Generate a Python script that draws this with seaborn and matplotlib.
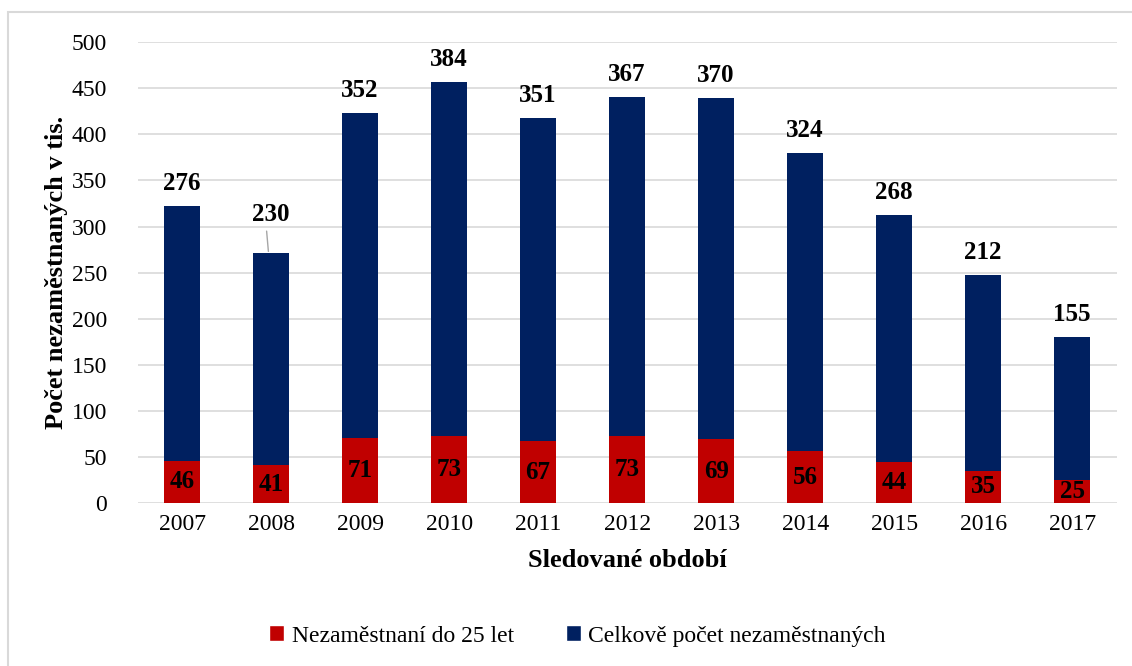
import matplotlib
matplotlib.use("Agg")
import matplotlib.pyplot as plt
import seaborn as sns
import pandas as pd
from matplotlib.patches import Patch, Rectangle

sns.set_style("whitegrid")
plt.rcParams['font.family'] = ['Liberation Serif', 'DejaVu Serif']
plt.rcParams['text.color'] = 'black'
plt.rcParams['axes.labelcolor'] = 'black'

roky = ['2007', '2008', '2009', '2010', '2011', '2012', '2013', '2014', '2015', '2016', '2017']
do25 = [46, 41, 71, 73, 67, 73, 69, 56, 44, 35, 25]
celkem = [276, 230, 352, 384, 351, 367, 370, 324, 268, 212, 155]

red = '#C00000'
navy = '#002060'

df = pd.DataFrame({'rok': roky, 'do25': do25, 'celkem': celkem})
df['vyska'] = df['do25'] + df['celkem']

fig = plt.figure(figsize=(11.32, 6.66), dpi=100)
ax = fig.add_axes([0.1215, 0.2447, 0.865, 0.692])

sns.barplot(data=df, x='rok', y='vyska', color=navy, width=0.4, saturation=1,
            linewidth=0, ax=ax)
sns.barplot(data=df, x='rok', y='do25', color=red, width=0.4, saturation=1,
            linewidth=0, ax=ax)

ax.set_xlim(-0.5, len(roky) - 0.5)
ax.set_ylim(0, 500)
ax.set_yticks(range(0, 501, 50))
ax.grid(axis='y', color='#D9D9D9', linewidth=1.2)
ax.grid(axis='x', visible=False)
for s in ax.spines.values():
    s.set_visible(False)
ax.tick_params(axis='both', length=0, labelsize=17, colors='black')
ax.tick_params(axis='x', pad=8)
ax.tick_params(axis='y', pad=22)

# popisky hodnot
for i, row in df.iterrows():
    off = 12
    if row['rok'] == '2008':
        off = 30
        ax.plot([i - 0.03, i - 0.05], [row['vyska'] + 2, row['vyska'] + 24],
                color='#A6A6A6', linewidth=1)
    ax.text(i, row['vyska'] + off, str(row['celkem']), ha='center', va='bottom',
            fontsize=18, fontweight='bold')
    ax.text(i, row['do25'] / 2, str(row['do25']), ha='center', va='center',
            fontsize=18, fontweight='bold')

ax.set_xlabel('Sledované období', fontsize=19, fontweight='bold', labelpad=10)
ax.set_ylabel('Počet nezaměstnaných v tis.', fontsize=19, fontweight='bold')
ax.yaxis.set_label_coords(-0.071, 0.5)

handles = [Patch(facecolor=red, label='Nezaměstnaní do 25 let'),
           Patch(facecolor=navy, label='Celkově počet nezaměstnaných')]
fig.legend(handles=handles, loc='center', bbox_to_anchor=(0.51, 0.045), ncol=2,
           frameon=False, fontsize=17, handlelength=0.65, handleheight=0.65,
           handletextpad=0.3, columnspacing=2.2)

# ramecek grafu
fig.patches.append(Rectangle((8 / 1132, -0.1), 1.2, 1.1 - 12 / 666, transform=fig.transFigure,
                             fill=False, edgecolor='#D9D9D9', linewidth=1.5))

fig.savefig('out.png', dpi=100)
